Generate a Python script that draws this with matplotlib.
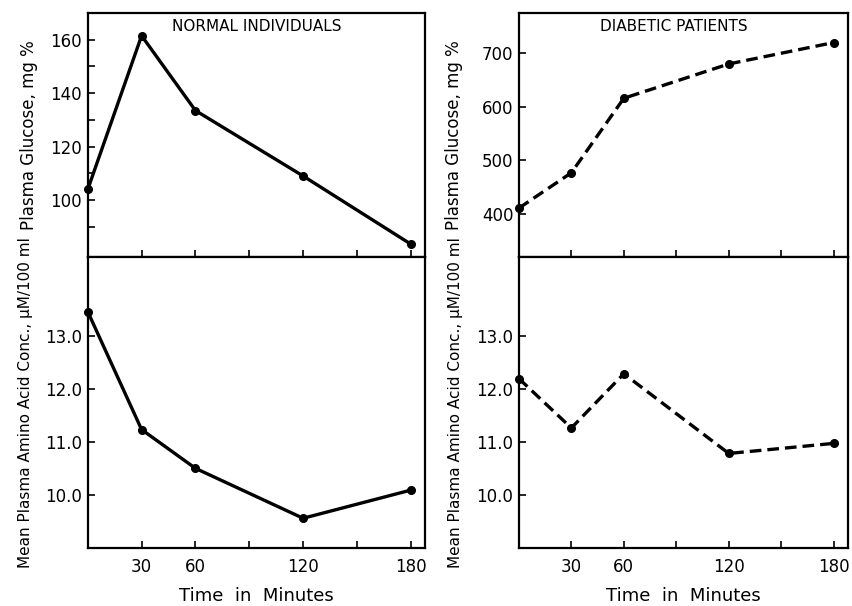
import matplotlib
matplotlib.use("Agg")
import matplotlib.pyplot as plt

# values
time_min = [0, 30, 60, 120, 180]
normal_glucose = [104, 161.5, 133.5, 109, 83.5]
normal_amino = [13.45, 11.23, 10.5, 9.56, 10.09]
diabetic_glucose = [411, 477, 616, 680, 720]
diabetic_amino = [12.19, 11.26, 12.28, 10.78, 10.97]

x_labelled = [30, 60, 120, 180]
x_minor = [90, 150]

plt.rcParams['font.family'] = ['DejaVu Sans']

fig = plt.figure(figsize=(8.52, 6.06), dpi=100)

col_left = [0.103, 0.609]
col_width = [0.396, 0.386]
top_b, top_h = 0.576, 0.4025
bot_b, bot_h = 0.0957, 0.4803


def style(ax, show_xlabels):
    ax.set_xlim(0, 188)
    ax.set_xticks(x_labelled)
    ax.set_xticks(x_minor, minor=True)
    if not show_xlabels:
        ax.set_xticklabels([])
    ax.tick_params(axis='both', which='both', direction='in', length=5,
                   width=1.2, labelsize=12, top=False, right=False)
    ax.tick_params(axis='y', which='both', pad=4)
    ax.tick_params(axis='x', which='both', pad=7)
    for s in ax.spines.values():
        s.set_linewidth(1.6)


panels = [
    (0, normal_glucose, normal_amino, '-', 'NORMAL INDIVIDUALS', 0.5),
    (1, diabetic_glucose, diabetic_amino, (0, (3.5, 1.8)), 'DIABETIC PATIENTS', 0.47),
]

for col, gluc, amino, ls, title, tx in panels:
    ax1 = fig.add_axes([col_left[col], top_b, col_width[col], top_h])
    ax2 = fig.add_axes([col_left[col], bot_b, col_width[col], bot_h])

    ax1.plot(time_min, gluc, ls=ls, color='black', lw=2.4, marker='o',
             ms=5.5, clip_on=False, zorder=5)
    ax2.plot(time_min, amino, ls=ls, color='black', lw=2.4, marker='o',
             ms=5.5, clip_on=False, zorder=5)

    style(ax1, False)
    style(ax2, True)

    if col == 0:
        ax1.set_ylim(78.7, 170)
        ax1.set_yticks([100, 120, 140, 160])
        ax1.set_yticks([90, 110, 130, 150], minor=True)
        ax1.yaxis.set_label_coords(-0.148, 0.54)
        ax2.yaxis.set_label_coords(-0.163, 0.44)
        ax2.xaxis.set_label_coords(0.53, -0.135)
    else:
        ax1.set_ylim(320, 775)
        ax1.set_yticks([400, 500, 600, 700])
        ax1.yaxis.set_label_coords(-0.170, 0.55)
        ax2.yaxis.set_label_coords(-0.170, 0.45)
        ax2.xaxis.set_label_coords(0.512, -0.135)

    ax2.set_ylim(9.0, 14.48)
    ax2.set_yticks([10, 11, 12, 13])
    ax2.set_yticklabels(['10.0', '11.0', '12.0', '13.0'])

    ax1.set_ylabel('Plasma Glucose, mg %', fontsize=12)
    ax2.set_ylabel('Mean Plasma Amino Acid Conc., \u03bcM/100 ml', fontsize=11)
    ax2.set_xlabel('Time  in  Minutes', fontsize=13)
    ax1.text(tx, 0.943, title, transform=ax1.transAxes, ha='center',
             va='center', fontsize=11)

fig.savefig('out.png', dpi=100)
